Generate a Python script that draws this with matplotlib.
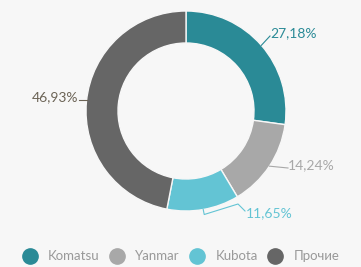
import matplotlib.pyplot as plt
import numpy as np
from matplotlib.lines import Line2D

labels = ['Komatsu', 'Yanmar', 'Kubota', 'Прочие']
values = [27.18, 14.24, 11.65, 46.93]
colors = ['#2a8a96', '#a8a8a8', '#63c4d4', '#666666']
text_colors = ['#2a8a96', '#a8a8a8', '#63c4d4', '#6b6355']

plt.rcParams['font.family'] = ['Lato', 'DejaVu Sans']

W, H = 361, 267
fig = plt.figure(figsize=(3.61, 2.67), dpi=100, facecolor='#f7f7f7')
ax = fig.add_axes([0, 0, 1, 1])
ax.set_facecolor('#f7f7f7')

# pixel-like coordinates, y measured from the bottom
cx, cy, r = 186, H - 111, 100
wedges, _ = ax.pie(values, colors=colors, startangle=90, counterclock=False,
                   center=(cx, cy), radius=r,
                   wedgeprops=dict(width=32, edgecolor='#f7f7f7', linewidth=1))

# label text anchor in pixels from top-left
text_pos = [(270, 33), (288, 165), (246, 213), (78, 97)]
for i, (w, v, tc, (tx, ty)) in enumerate(zip(wedges, values, text_colors, text_pos)):
    ty = H - ty
    mid = np.deg2rad((w.theta1 + w.theta2) / 2)
    px, py = cx + r * np.cos(mid), cy + r * np.sin(mid)
    if tx < cx:
        ang = np.arcsin((ty - 3 - cy) / r)
        px = cx - r * np.cos(ang)
        ax.plot([px, tx + 1], [ty - 3, ty - 3], color=tc, lw=0.8)
        ha = 'right'
    elif i == 2:
        # bent connector below the Kubota slice
        ax.plot([px, px + 1, tx - 8, tx - 1], [py, py - 5, ty + 9, ty + 2],
                color=tc, lw=0.8)
        ha = 'left'
    else:
        ax.plot([px, tx, tx], [py, ty - 3, ty - 3], color=tc, lw=0.8)
        ha = 'left'
    ax.text(tx, ty, f'{v:.2f}%'.replace('.', ','),
            color=tc, fontsize=10, ha=ha, va='center')

ax.set_xlim(0, W)
ax.set_ylim(0, H)
ax.set_aspect('auto')
ax.axis('off')

handles = [Line2D([], [], marker='o', ls='', markersize=11, color=c) for c in colors]
fig.legend(handles, labels, loc='center', bbox_to_anchor=(0.5, 0.04), ncol=4,
           frameon=False, fontsize=9.5, labelcolor='#999999', handletextpad=0.8,
           columnspacing=0.7, handlelength=1.2)

fig.savefig('out.png', dpi=100, facecolor='#f7f7f7')
